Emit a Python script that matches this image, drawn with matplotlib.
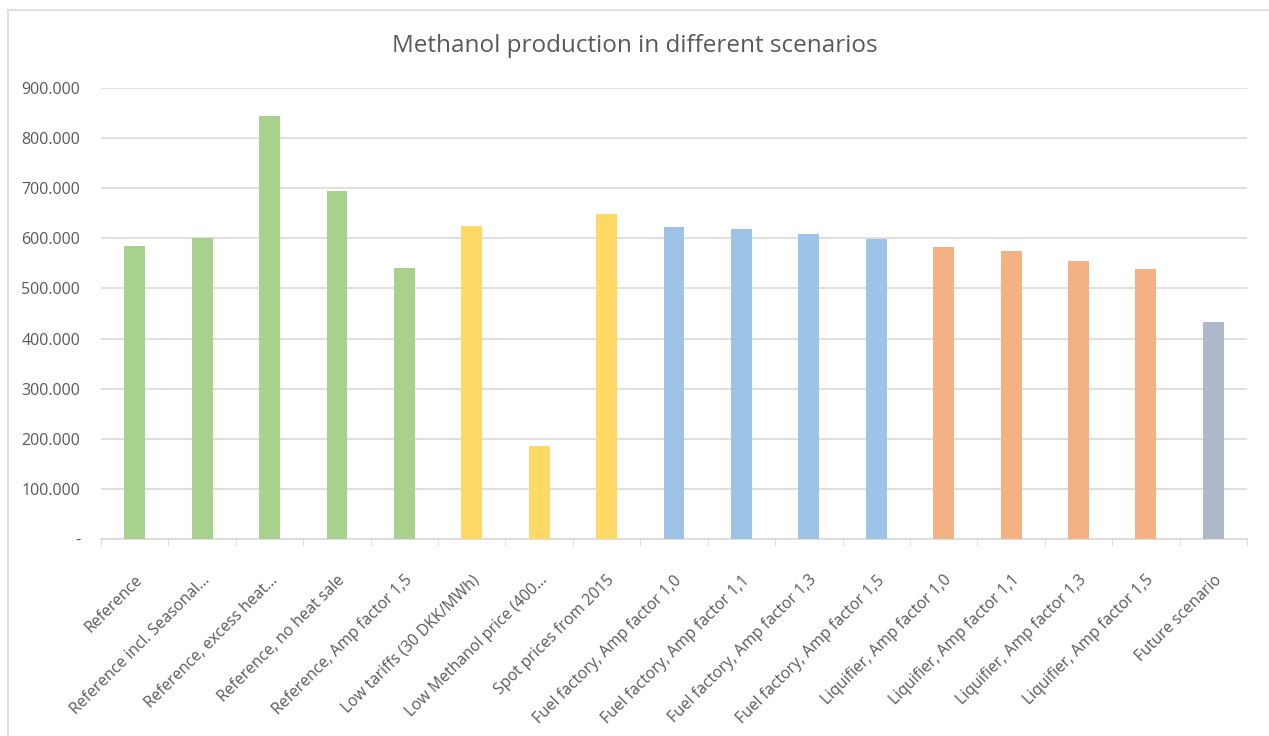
import matplotlib.pyplot as plt
from matplotlib.ticker import FuncFormatter, FixedLocator
from matplotlib.lines import Line2D

plt.rcParams['font.family'] = ['Open Sans', 'DejaVu Sans']

scenarios = [
    'Reference', 'Reference incl. Seasonal...', 'Reference, excess heat...',
    'Reference, no heat sale', 'Reference, Amp factor 1,5',
    'Low tariffs (30 DKK/MWh)', 'Low Methanol price (400...',
    'Spot prices from 2015',
    'Fuel factory, Amp factor 1,0', 'Fuel factory, Amp factor 1,1',
    'Fuel factory, Amp factor 1,3', 'Fuel factory, Amp factor 1,5',
    'Liquifier, Amp factor 1,0', 'Liquifier, Amp factor 1,1',
    'Liquifier, Amp factor 1,3', 'Liquifier, Amp factor 1,5',
    'Future scenario',
]
production = [585000, 600000, 844000, 695000, 540000,
              625000, 186000, 649000,
              623000, 618000, 608000, 598000,
              583000, 575000, 555000, 538000,
              434000]
groups = ['green'] * 5 + ['yellow'] * 3 + ['blue'] * 4 + ['orange'] * 4 + ['grey']
group_colors = {'green': '#A9D18E', 'yellow': '#FFD966', 'blue': '#9DC3E6',
                'orange': '#F4B183', 'grey': '#ADB9CA'}

fig = plt.figure(figsize=(12.69, 7.36), dpi=100)
ax = fig.add_axes([0.0796, 0.2677, 0.9031, 0.6127])

x = range(len(scenarios))
ax.bar(x, production, width=0.31, color=[group_colors[g] for g in groups], zorder=3)

ax.set_xlim(-0.5, len(scenarios) - 0.5)
ax.set_ylim(0, 900000)
ax.set_yticks(range(0, 900001, 100000))
ax.yaxis.set_major_formatter(FuncFormatter(
    lambda v, p: '-' if v == 0 else f'{int(v):,}'.replace(',', '.')))
ax.grid(axis='y', color='#D9D9D9', linewidth=1.2, zorder=0)

ax.set_xticks(list(x))
ax.set_xticklabels(scenarios, rotation=45, ha='right', rotation_mode='anchor',
                   fontsize=11.3, color='#595959')
ax.xaxis.set_minor_locator(FixedLocator([i - 0.5 for i in range(len(scenarios) + 1)]))
ax.tick_params(axis='x', which='major', length=0, pad=24)
ax.tick_params(axis='x', which='minor', length=5, color='#D9D9D9')
ax.tick_params(axis='y', length=0, labelsize=11.5, labelcolor='#595959', pad=15)

for s in ['top', 'right', 'left']:
    ax.spines[s].set_visible(False)
ax.spines['bottom'].set_color('#D9D9D9')
ax.spines['bottom'].set_linewidth(1.2)

fig.text(0.5, 0.938, 'Methanol production in different scenarios',
         ha='center', va='center', fontsize=17.5, color='#595959')

# chart area border
fig.add_artist(Line2D([7.5 / 1269, 7.5 / 1269], [0, 1 - 9.5 / 736],
                      transform=fig.transFigure, color='#D9D9D9', linewidth=1.2))
fig.add_artist(Line2D([7.5 / 1269, 1], [1 - 9.5 / 736, 1 - 9.5 / 736],
                      transform=fig.transFigure, color='#D9D9D9', linewidth=1.2))

fig.savefig('out.png', dpi=100)
